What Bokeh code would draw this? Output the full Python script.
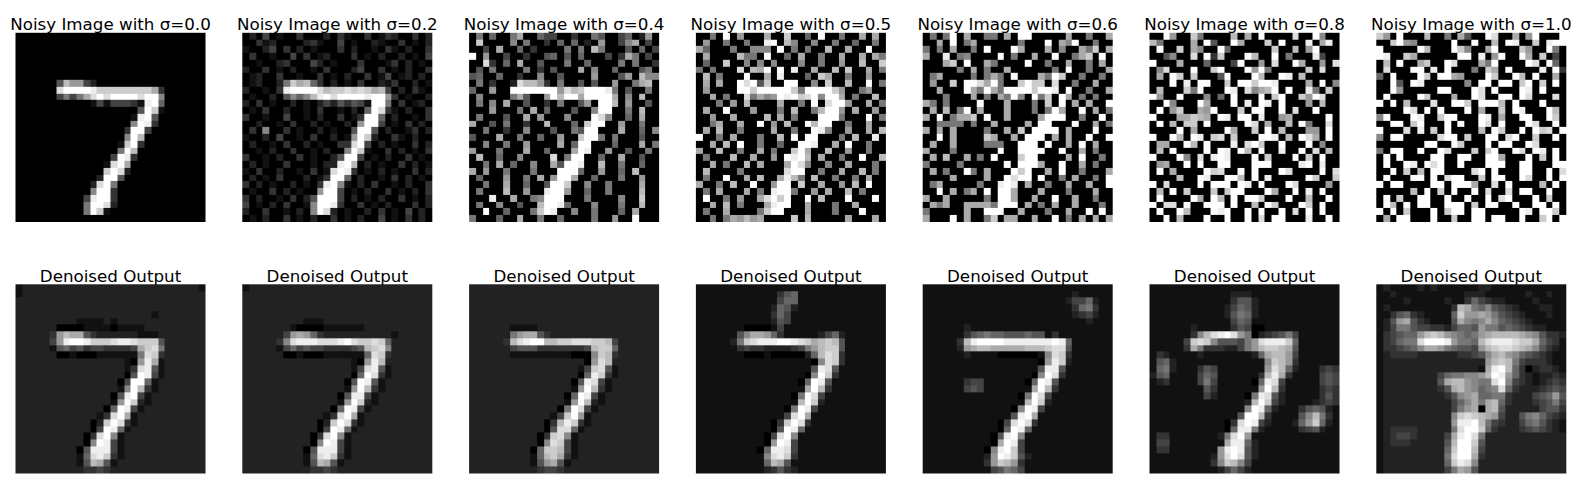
import numpy as np
from bokeh.plotting import figure
from bokeh.models import Range1d, LinearColorMapper
from bokeh.palettes import gray
from bokeh.core.properties import value
from bokeh.embed import file_html
from bokeh.resources import INLINE

sigmas = [0.0, 0.2, 0.4, 0.5, 0.6, 0.8, 1.0]
noisy_titles = ["Noisy Image with σ=%.1f" % s for s in sigmas]
denoised_title = "Denoised Output"

#- 28x28 grey levels, one hex digit per pixel (0=black, f=white)
noisy_00 = [
    "0000000000000000000000000000",
    "0000000000000000000000000000",
    "0000000000000000000000000000",
    "0000000000000000000000000000",
    "0000000000000000000000000000",
    "0000000000000000000000000000",
    "0000000000000000000000000000",
    "0000005b99420000000000000000",
    "000000dffffecccccccca3000000",
    "0000004747adfdffffdff8000000",
    "0000000000014144431ef6000000",
    "0000000000000000005fc1000000",
    "000000000000000001ef50000000",
    "000000000000000008fe30000000",
    "00000000000000003ff400000000",
    "00000000000000008fb000000000",
    "0000000000000001cf3000000000",
    "0000000000000007fb0000000000",
    "000000000000004fe30000000000",
    "00000000000001dfa00000000000",
    "0000000000000cfd200000000000",
    "0000000000002ff5000000000000",
    "000000000002df70000000000000",
    "000000000008ff30000000000000",
    "00000000004eff30000000000000",
    "00000000007ffd20000000000000",
    "00000000007fc100000000000000",
    "0000000000000000000000000000",
]
noisy_02 = [
    "0204010030002031003013200302",
    "0031200002310040100210030102",
    "1002403020100030200103102003",
    "0300100403012000301020020104",
    "0010023000420100030001302010",
    "2003010200103000240030102003",
    "0120030010030102003014012020",
    "0120027cab630201030021300201",
    "200103effffdbccdcdcab4020310",
    "0100205868befdffffeff9301002",
    "2030100201024253541ff7030120",
    "0103002001030010206fd3102003",
    "300100400102003013ff60200103",
    "002001030020100209ff40103020",
    "03080030100201005ff502001302",
    "10020400103002019fc200310200",
    "0200103002010033df4020100302",
    "0010200300102008fc1003020103",
    "300102003010025ff40102003010",
    "02010030001022efb02010030201",
    "1030020010301dfe301020100302",
    "0201030002013ff6020010302010",
    "302010020103ef81020300102003",
    "010030201009ff40102003010203",
    "30200103025fff40201020030102",
    "40102030018ffe30030102000302",
    "20030010208fd201002030104020",
    "0102003010200301020040103020",
]
noisy_04 = [
    "0706007a00644003007500460290",
    "0c0000807003060602090048a040",
    "0040a0060300007070b700050604",
    "f0900400300560506000403a7040",
    "00d3060a00500070060000707003",
    "0507000070305000a08006000570",
    "5600600300800500009000590b88",
    "0703002dbb930700505009007ab0",
    "600900fffffff9dbcfffe7050070",
    "0800007a5009fbffaffffa080b00",
    "07080a0050030700590ffb090050",
    "000900070a060005008ff0070b00",
    "07000500a090008000fd80060a00",
    "a0050700300b00060cff00900700",
    "00700300800050075ff000a00608",
    "5000a00700600900cff707000500",
    "0080070090000a06ff0006000a07",
    "90007000a006000afe0090050070",
    "0b0060080000d07ff00600a00500",
    "0070a0600800a5ffe00b00700600",
    "a090070007000fff60090060b000",
    "0600090070a09ffa006000700900",
    "00700a006005ffc0080070000a00",
    "07000b00900eff90060070000b00",
    "000e00a0078fff00070000800c00",
    "0700800500bffe60008000700b00",
    "00f0060007cfe00800700060a000",
    "7000600a0070060000700900f000",
]
noisy_05 = [
    "0070f09000a00c0060f00700a0a0",
    "0900700700ef0b80080070060070",
    "a60007008880f070700b00a00f00",
    "0a0000b770f0060a00700a00a0a7",
    "0600c0080808000800700900b00c",
    "707000d0baf0f0e00a00b0c00a07",
    "0b07000f00a0e00060ca00700900",
    "0a0a00fdf5c00ff0080c00b00f07",
    "090000ffcfffffc7ffffc9007900",
    "00a0700d7a89fefcdf8ffa0700b0",
    "0007090b0000a0070f0dff900a07",
    "0a00f000900070b007bff90a0090",
    "00900a0000b0a07000fff7000f07",
    "007a00a00f090b00fbff00700a00",
    "0a0b0070000a00700fe800900a0b",
    "f0070a000700b0f0ff00070b00e0",
    "00a0b0f00700600ffe00a0f00700",
    "a00b00700a0700cfa00b00900700",
    "07000b00a0090fefb0a00700f00b",
    "00a0700b0a000afd800800a00070",
    "0b00007000000dff00700a00b070",
    "0700f00a0b00aeb70b0070070a00",
    "a0070b00f009ff0c00a0090b0f00",
    "070a000a070eff70090a00b07000",
    "0f0070900adfcf00f0b000f000f0",
    "00a0b07000aeff00a000700a0000",
    "0700a00007cff000a0007000f000",
    "00707a9b9a0000c0b00000a000a0",
]
noisy_06 = [
    "0707f0a00770a0ff00000a00700a",
    "00a0f07a0000007000f0a8f00700",
    "7070a0070f000fa000a0800a7c0a",
    "a00e0780000f0700a00f007ac0f0",
    "000ac0f00a70000f00700a0070a0",
    "0000070a0700a00000070f00700a",
    "07a0000707a70f000a7fc0070070",
    "0900c0ffdaf700cfcc0d00700a00",
    "00a000fa7fa7ffffcffe0f00700a",
    "0007000a070a7f80f7c0fa070700",
    "a7070000f000a00070c0f0a0a00f",
    "0a0b07f0a000a000707fa00f0a07",
    "a0f07aac0f00a0000afff00700f0",
    "0077770700a0000a0ff000f00a07",
    "a0a0a0000700a0c0ffff0a000f00",
    "00f0a0000ca00a0fff0a0a00f00f",
    "0a00a000077700fff0f00a0f0a00",
    "a0007000000f00ffff00f00a0700",
    "0a0b00a070f000cff0000a0f0070",
    "700007000000f0fffa00f00a0700",
    "0a0700f70a000fcf00a0f007000a",
    "0000a0000a00fdff0f0070a0070f",
    "07a00000700efe0a00700a00a00f",
    "00f0a07a0f0ffa000a0007000a00",
    "a00a0000070ffa00a00f00a00700",
    "0a7a00aaaa7fff0a070a00a00070",
    "700000a00fff00a000700a00f0f0",
    "a000f0a007c0aa00a00f070a0a0a",
]
noisy_08 = [
    "00f900c70000b0a0f0000d00f800",
    "b70000a0f500fa000c0f000e0ae0",
    "0f00c0a800f6000000c00b09f000",
    "005800d0f3c000fb00f07000e400",
    "f000a00060004f0090d00fa0090d",
    "08d000f00cf000f9f700000c0d00",
    "0a0fc0c0005f000fb00fe0b00000",
    "000f0e0ff00c0ffcffe0000a0f08",
    "0b000c7f000fe0d8abf0f00e70c0",
    "f900f0008060f000f0cf00c9fd00",
    "00f8000fa000f0e0fe0f00090b00",
    "0f09c00a9f000c0ff00f0d00f000",
    "f000aacba0fe0ff0e009a00000f0",
    "0f0b0cc0f00000fd0a00b0f700d0",
    "0000f0a0000fa00c0f0b000990f0",
    "f00fb0fe0cd0c000ffe0b0fda0f0",
    "0aa00fb0f000e0dfc00f000f0800",
    "0b0f0000f0fe0fb0f00e00f0d0b0",
    "f000f80d0efe000f0c000f0c0f00",
    "09a00f0f00ff000fff0000ef0e00",
    "0f0a0000fcd00f0f000fd0000f0d",
    "0000b00fe00ffb0f0e00000fc00c",
    "f0d0000f0fff0fe0f000fd000090",
    "0b0f0c000c0cff000fa00f0e0f00",
    "0f0000fa0fb0f0ffc000f00b00f0",
    "f0dd0f00fff0f00b0fc000fc0f00",
    "0f00fb000fef00f0f00f0d0f0f00",
    "00f0b000f00f00f0d0ff000e00f0",
]
noisy_10 = [
    "c90f000b0070a500fd00a09f000f",
    "00cf9800000f00f00b0fe00c0eff",
    "f00000fb000fc800af000c900f70",
    "fe00ca000000ff0e09f00fa0c040",
    "0b0f00ac00fd000a7f0000fd0f60",
    "0d000ff0e0f00070ca0f0000e0f3",
    "60f000fc0ffa9000fc00fb0f00a0",
    "00f50fe00000080ff0ff0cf0c0f0",
    "00f900000ff000fd0f000fe0f000",
    "0f0000fc000a00fd00ff0fd000d0",
    "f0f0b000d00ffc0fffb0f000f000",
    "0000fd0f0f000f0a00c0fe000fb0",
    "8f000fe00cff000fe0a00ff00fc0",
    "00ff0cf000f0f00fd0f000fd00f0",
    "f000d0e0c0f0000b0fc00f0fcd0f",
    "80ff00000dff0c00ff0df00c00f0",
    "0000000ff00fc000f0ff00fd0000",
    "70ff00f00fd000c0cf00fd0fe0f0",
    "0f0f0000ff00ff00ffa000f0c0f0",
    "0f00fe0fdf00f000fff00ff000ff",
    "00f0c0b0ff0000df0f000ff00f0d",
    "0f000ff0f0dff00c0ff00fd00f0f",
    "f0ff0000ff0fffa00d0f0000b0f0",
    "00000b0f0c0f00f0d00d0ff00f00",
    "0f0c00ff00f00f00f0df000f0c00",
    "0fb0f0ff00fff0c0ff00f00ff0f0",
    "f0f0c000f0cff0ff00000fe0ffc0",
    "0a0ff000f00c00ff0ff00f00cf0f",
]

denoised_00 = [
    "1222222222222222222222222221",
    "1222222222222222222222222222",
    "2222222222222222222222222222",
    "2222222222222222222222222222",
    "2222222222222222222212222222",
    "2222222221111212222222222222",
    "2222220000111101111222222222",
    "2222239baa532222221112222222",
    "2222249effecccdeedccc5222222",
    "222221564534433334acd7222222",
    "2222220010001111117dc3222222",
    "2222222222222222109ea1222222",
    "222222222222222213de51222222",
    "222222222222222205fe41222222",
    "22222222222222204ff612222222",
    "22222222222222218fb312222222",
    "2222222222222205ef4122222222",
    "2222222222222219fc2122222222",
    "222222222222206fe41222222222",
    "22222222222213dfa12222222222",
    "2222222222202cfd312222222222",
    "2222222222204fe6122222222222",
    "222222222203df81222222222222",
    "222222222208fe41222222222222",
    "22222222205eee41222222222222",
    "22222222216dec31222222222222",
    "22222222215ba512222222222222",
    "2222222222334322222222222222",
]
denoised_02 = [
    "1222222222222222222222222222",
    "2222222222222222222222222222",
    "2222222222222222222222222222",
    "2222222222222222222222222222",
    "2222222222222222222222222222",
    "2222222221112222222222222222",
    "2222222100001111112222222222",
    "22222249a9632222222222122222",
    "2222238deeedddefdccdc6222222",
    "222221464544333345bcd8222222",
    "2222220010001111116dc3222222",
    "2222222222222222109eb2222222",
    "222222222222222214de51222222",
    "222222222222222206fd31222222",
    "22222222222222205fe512222222",
    "22222222222222219fb312222222",
    "2222222222222205ee4122222222",
    "2222222222222219fc2122222222",
    "222222222222206fe41222222222",
    "22222222222213dfa12222222222",
    "2222222222202cfd312222222222",
    "2222222222204fe6122222222222",
    "222222222203df81222222222222",
    "222222222208fe41222222222222",
    "22222222205eee41222222222222",
    "22222222216dec31222222222222",
    "22222222215ba512222222222222",
    "2222222222334322222222222222",
]
denoised_04 = [
    "2222222222222222222222222222",
    "2222222222222222222222222222",
    "2222222222222222222222222222",
    "2222222222222222222222222222",
    "2222222222222222222222222222",
    "2222222222222222222222222222",
    "2222221111222222222222222222",
    "22222279aa532222222222222222",
    "222223bdeffbbccdddccb4222222",
    "222222455533333334bcc6222222",
    "2222221111111110008cb3222222",
    "2222222222222222209db2222222",
    "222222222222222214cd51222222",
    "222222222222222206ec31222222",
    "22222222222222205ed412222222",
    "22222222222222219fb312222222",
    "2222222222222206fe4122222222",
    "2222222222222219fb2122222222",
    "222222222222207fd41222222222",
    "22222222222214cf912222222222",
    "2222222222203bec312222222222",
    "2222222222205dd6122222222222",
    "222222222203cd81222222222222",
    "222222222208dc41222222222222",
    "22222222206ccb41222222222222",
    "22222222216bca31222222222222",
    "222222222159a512222222222222",
    "2222222222344322222222222222",
]
denoised_05 = [
    "1111111111111111111111111111",
    "1111111111113561111111111111",
    "1111111111114661111111111111",
    "1111111111126521111111111111",
    "1111111111136411111111111111",
    "1111111111125411111111111111",
    "1111111000014111111111111111",
    "11111158aa963111112462111111",
    "1111127cdeeeffedcabcb5111111",
    "111111343322223479bcc5111111",
    "111111100010000026bdc3111111",
    "1111111111111111108dc3111111",
    "111111111111111115ed51111111",
    "111111111111111108fc31111111",
    "11111111111111106fe511111111",
    "1111111111111111afb311111111",
    "1111111111111107fd4111111111",
    "111111111111111bfc2111111111",
    "111111111111107fe41111111111",
    "11111111111114dfa11111111111",
    "1111111111103cfd311111111111",
    "1111111111105fe6111111111111",
    "111111111104df81111111111111",
    "111111111109fe41111111111111",
    "11111111106eed41111111111111",
    "11111111118dec31111111111111",
    "11111111116ba511111111111111",
    "1111111111235321111111111111",
]
denoised_06 = [
    "1111111111111111111111111111",
    "1111111111111111111111211111",
    "1111111111111111111112446211",
    "1111111111111111111111367311",
    "1111111111111111111111234211",
    "1111111111111111111111112111",
    "1111112111111111111111111111",
    "1111113567665556551311111111",
    "111113beffffeeeeeeefe6111111",
    "1111129abbaaaaabbbcdd5111111",
    "1111112111100000018dc3111111",
    "1111111111111111109ec2111111",
    "111111111111111115ee51111111",
    "111111111111111108fd31111111",
    "11111134411111106fe511111111",
    "1111114541111111afb311111111",
    "1111111111111107fd4111111111",
    "111111111111111bfc2111111111",
    "111111111111108fe41111111111",
    "11111111111115efa11111111111",
    "1111111111104dfd311111111111",
    "1111111111106fe6111111111111",
    "111111111105ef81111111111111",
    "11111111110afe41111111111111",
    "11111111108efc41111111111111",
    "11111111129fec52111111111111",
    "11111111139cb931111111111111",
    "1111111111457641111111111111",
]
denoised_08 = [
    "1111111111111111111111111111",
    "1111111111112221111111111111",
    "1111111111113552111111111111",
    "1111111111124652111111111111",
    "1111111111125762111111111111",
    "1111111111114651111111111111",
    "1111112111113540011111111111",
    "11111138bdefd970234574111111",
    "111114cdc8555479deeec6111111",
    "111113a733322479bccba5111111",
    "13211112111111126abb94111111",
    "156211111111111118cb93111111",
    "167211135411111119db62111343",
    "25611114651111113bea31111454",
    "12311114741111106ed411111454",
    "11111111531111119fb311111343",
    "1111111142111107ed5211111353",
    "111111111111112bfc4211112343",
    "111111111111118fe62111356521",
    "11111111111115ffb3111158b731",
    "1111111111103dfe42111269c621",
    "1111111111106ee7211111345211",
    "133111111127df91111111111111",
    "14411111111aee62111111111111",
    "13311111119efe52111111111111",
    "11111111129dfd52111111111111",
    "11111111138cb841111111111111",
    "1111111111246421111111111111",
]
denoised_10 = [
    "1211112121111112211111111111",
    "1121111111111222111111211211",
    "1111211111211364322111121111",
    "121111111113ba76854321112211",
    "113563211116c99a975432111211",
    "1259a5321115a878a86543211111",
    "1247754433246659775654322111",
    "1345669bcb987679abbbba985332",
    "134677dfffe9776bdeeedcca6431",
    "1334568aa9765549bcddcba85321",
    "12333322222233458ab986543211",
    "12222222222222229bcb74333211",
    "1222222222222221aefb63023321",
    "1222222224677889bfe963212232",
    "1222222225abb9877df843212343",
    "12222222235ab98678d632223454",
    "12222222223589a6677322245695",
    "12222222222468a7ab6322234574",
    "12222222222479a0ab5222224553",
    "122222222228cdcba94225786432",
    "122222222229eefb743224675321",
    "123333222227dffc632223454321",
    "12344322224aefd7222222222222",
    "12333222225bffc5222222222222",
    "12222222226cffb4222222222222",
    "12222222227dffa3222222222222",
    "12222222226ced82222222222222",
    "122222222247a952222222222222",
]

noisy = [noisy_00, noisy_02, noisy_04, noisy_05, noisy_06, noisy_08, noisy_10]
denoised = [denoised_00, denoised_02, denoised_04, denoised_05, denoised_06, denoised_08, denoised_10]


def to_array(rows):
    img = np.zeros((28, 28))
    for i, r in enumerate(rows[:28]):
        r = (r + "0" * 28)[:28]
        img[i] = [int(c, 16) / 15.0 for c in r]
    #- bokeh puts the first row at the bottom
    return img[::-1]


#- data units are page pixels (y counted from the bottom)
W, H = 1580, 483
p = figure(width=W, height=H, x_range=Range1d(0, W), y_range=Range1d(0, H),
           output_backend="svg", toolbar_location=None, min_border=0)
p.axis.visible = False
p.grid.visible = False
p.outline_line_color = None

mapper = LinearColorMapper(palette=gray(256), low=0, high=1)

left0, step = 15, 226.8
size_x, size_y = 190, 189.2
top_y, bottom_y = 261.5, 10

title_x, title_y, title_text = [], [], []
for i in range(len(sigmas)):
    x0 = left0 + step * i
    p.image(image=[to_array(noisy[i])], x=x0, y=top_y, dw=size_x, dh=size_y, color_mapper=mapper)
    p.image(image=[to_array(denoised[i])], x=x0, y=bottom_y, dw=size_x, dh=size_y, color_mapper=mapper)
    title_x += [x0 + size_x / 2, x0 + size_x / 2]
    title_y += [top_y + size_y + 9, bottom_y + size_y + 8]
    title_text += [noisy_titles[i], denoised_title]

p.text(x=title_x, y=title_y, text=title_text, text_align="center", text_baseline="alphabetic",
       text_font=value("DejaVu Sans"), text_font_size="16.7px", text_color="black")

open("out.html", "w").write(file_html(p, INLINE))
